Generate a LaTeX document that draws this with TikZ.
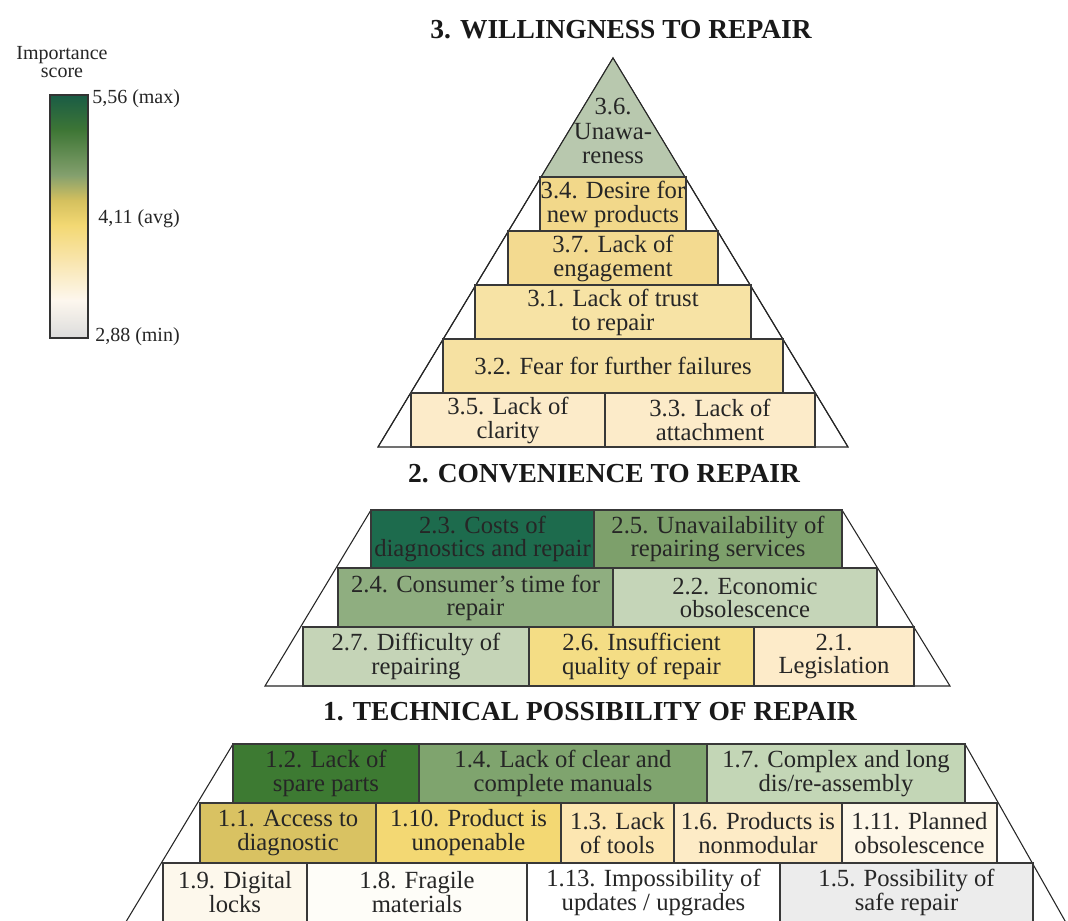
\documentclass[tikz,border=0pt]{standalone}
\usepackage{fontspec}
\setmainfont{Liberation Serif}
\definecolor{c36}{HTML}{B8C8AE}
\definecolor{c34}{HTML}{F2D88A}
\definecolor{c37}{HTML}{F3DA90}
\definecolor{c31}{HTML}{F7E3A5}
\definecolor{c32}{HTML}{F6E1A2}
\definecolor{c35}{HTML}{FCEBC9}
\definecolor{c33}{HTML}{FCEBC9}
\definecolor{c23}{HTML}{1D6B4D}
\definecolor{c25}{HTML}{7DA06B}
\definecolor{c24}{HTML}{8FAE80}
\definecolor{c22}{HTML}{C5D5B8}
\definecolor{c27}{HTML}{C5D4B7}
\definecolor{c26}{HTML}{F4DD85}
\definecolor{c21}{HTML}{FDEBC9}
\definecolor{c12}{HTML}{3D7A32}
\definecolor{c14}{HTML}{7FA46E}
\definecolor{c17}{HTML}{C3D6B6}
\definecolor{c11}{HTML}{D9C262}
\definecolor{c110}{HTML}{F3D873}
\definecolor{c13}{HTML}{FCE6B1}
\definecolor{c16}{HTML}{FDEBC6}
\definecolor{c111}{HTML}{FEF7E8}
\definecolor{c19}{HTML}{FDF8EC}
\definecolor{c18}{HTML}{FEFDF8}
\definecolor{c113}{HTML}{FFFFFF}
\definecolor{c15}{HTML}{ECECEC}
\definecolor{g1}{HTML}{1A5C45}
\definecolor{g2}{HTML}{3E7635}
\definecolor{g3}{HTML}{84A06E}
\definecolor{g4}{HTML}{D4C05E}
\definecolor{g5}{HTML}{F3D873}
\definecolor{g6}{HTML}{F9E6B0}
\definecolor{g7}{HTML}{FDF7EE}
\definecolor{g8}{HTML}{DCDCDC}
\newcommand\cellbox[8]{%
  \path[cellframe, fill=#6] (#2,#3) rectangle (#4,#5);
  \node[#7] (#1) at ({(#2+#4)/2},{(#3+#5)/2}) {#8};}
\newcommand\lowbox[6]{%
  \path[cellframe, fill=#5] (#2,#3) rectangle (#4,935);
  \node[celltext] (#1) at ({(#2+#4)/2},892) {#6};}
\begin{document}
\begin{tikzpicture}[x=0.75pt,y=-0.75pt,
  cellframe/.style={draw=black!78, line width=0.9pt},
  celltext/.style={align=center, inner sep=0pt, text=black!85, font=\fontsize{18.5}{18}\selectfont},
  midtext/.style={celltext, font=\fontsize{18.5}{17.3}\selectfont},
  outline/.style={draw=black!85, line width=0.8pt, line join=miter},
  titletext/.style={font=\bfseries\fontsize{20.6}{22}\selectfont, inner sep=0pt, text=black!90},
  legtext/.style={font=\fontsize{15}{14}\selectfont, inner sep=0pt, text=black!85, align=center}]
\useasboundingbox (0,0) rectangle (1068,921);
\clip (0,0) rectangle (1068,921);
\fill[white] (0,0) rectangle (1068,921);

% ---------- legend ----------
\node[legtext] (legtitle) at (62,62) {Importance\\score};
\shade[top color=g1, bottom color=g2] (50,95) rectangle (88,130.5);
\shade[top color=g2, bottom color=g3] (50,130) rectangle (88,175.5);
\shade[top color=g3, bottom color=g4] (50,175) rectangle (88,200.5);
\shade[top color=g4, bottom color=g5] (50,200) rectangle (88,225.5);
\shade[top color=g5, bottom color=g6] (50,225) rectangle (88,262.5);
\shade[top color=g6, bottom color=g7] (50,262) rectangle (88,300.5);
\shade[top color=g7, bottom color=g8] (50,300) rectangle (88,338);
\draw[black!80, line width=0.9pt] (50,95) rectangle (88,338);
\node[legtext, anchor=west] (lmax) at (92,99) {5,56 (max)};
\node[legtext, anchor=west] (lavg) at (98,219) {4,11 (avg)};
\node[legtext, anchor=west] (lmin) at (95,337) {2,88 (min)};

% ---------- 3. willingness ----------
\node[titletext] (t3) at (621,30) {3. WILLINGNESS TO REPAIR};
\draw[outline, fill=white] (378,447) -- (613,58) -- (848,447) -- cycle;
\begin{scope}
  \clip (378,447) -- (613,58) -- (848,447) -- cycle;
  \fill[c36] (300,40) rectangle (900,177);
\end{scope}
\draw[outline] (378,447) -- (613,58) -- (848,447);
\node[celltext, font=\fontsize{18.5}{18.4}\selectfont] (n36) at (613,131) {3.6.\\Unawa-\\reness};
\cellbox{n34}{540}{177}{686}{231}{c34}{celltext}{3.4. Desire for\\new products}
\cellbox{n37}{508}{231}{718}{285}{c37}{celltext}{3.7. Lack of\\engagement}
\cellbox{n31}{475}{285}{751}{339}{c31}{celltext}{3.1. Lack of trust\\to repair}
\cellbox{n32}{443}{339}{783}{393}{c32}{celltext}{3.2. Fear for further failures}
\cellbox{n35}{411}{393}{605}{447}{c35}{celltext}{3.5. Lack of\\clarity}
\cellbox{n33}{605}{393}{815}{447}{c33}{celltext}{3.3. Lack of\\attachment}

% ---------- 2. convenience ----------
\node[titletext] (t2) at (604,474) {2. CONVENIENCE TO REPAIR};
\draw[outline, fill=white] (371,510) -- (842,510) -- (950,686) -- (265,686) -- cycle;
\cellbox{n23}{371}{510}{594}{568}{c23}{midtext}{2.3. Costs of\\diagnostics and repair}
\cellbox{n25}{594}{510}{842}{568}{c25}{midtext}{2.5. Unavailability of\\repairing services}
\cellbox{n24}{338}{568}{613}{627}{c24}{midtext}{2.4. Consumer’s time for\\repair}
\cellbox{n22}{613}{568}{877}{627}{c22}{midtext}{2.2. Economic\\obsolescence}
\cellbox{n27}{303}{627}{529}{686}{c27}{midtext}{2.7. Difficulty of\\repairing}
\cellbox{n26}{529}{627}{754}{686}{c26}{midtext}{2.6. Insufficient\\quality of repair}
\cellbox{n21}{754}{627}{914}{686}{c21}{midtext}{2.1.\\Legislation}

% ---------- 1. technical ----------
\node[titletext] (t1) at (590,712) {1. TECHNICAL POSSIBILITY OF REPAIR};
\draw[outline, fill=white] (118,935) -- (233,744) -- (965,744) -- (1073,935);
\cellbox{n12}{233}{744}{419}{803}{c12}{celltext}{1.2. Lack of\\spare parts}
\cellbox{n14}{419}{744}{707}{803}{c14}{celltext}{1.4. Lack of clear and\\complete manuals}
\cellbox{n17}{707}{744}{965}{803}{c17}{celltext}{1.7. Complex and long\\dis/re-assembly}
\cellbox{n11}{200}{803}{376}{863}{c11}{celltext}{1.1. Access to\\diagnostic}
\cellbox{n110}{376}{803}{561}{863}{c110}{celltext}{1.10. Product is\\unopenable}
\cellbox{n13}{561}{803}{674}{863}{c13}{celltext}{1.3. Lack\\of tools}
\cellbox{n16}{674}{803}{842}{863}{c16}{celltext}{1.6. Products is\\nonmodular}
\cellbox{n111}{842}{803}{997}{863}{c111}{celltext}{1.11. Planned\\obsolescence}
\lowbox{n19}{163}{863}{307}{c19}{1.9. Digital\\locks}
\lowbox{n18}{307}{863}{527}{c18}{1.8. Fragile\\materials}
\lowbox{n113}{527}{863}{780}{c113}{1.13. Impossibility of\\updates / upgrades}
\lowbox{n15}{780}{863}{1033}{c15}{1.5. Possibility of\\safe repair}
\end{tikzpicture}
\end{document}
